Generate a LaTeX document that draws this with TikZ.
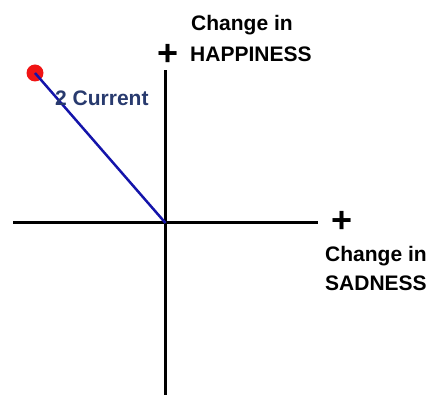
\documentclass[tikz,border=0pt]{standalone}
\usepackage{fontspec}
\setmainfont{Liberation Sans}
\definecolor{axisblue}{RGB}{20,20,170}
\definecolor{labelnavy}{RGB}{40,58,110}
\definecolor{dotred}{RGB}{240,20,20}
\begin{document}
\begin{tikzpicture}[x=1pt,y=-1pt,
  axis/.style={line width=3pt,black},
  lbl/.style={inner sep=0pt,anchor=base west,font=\fontsize{21}{24}\selectfont\bfseries},
  plussign/.style={inner sep=0pt,anchor=base,font=\fontsize{36}{40}\selectfont\bfseries},
  curline/.style={line width=2.5pt,axisblue}]
\useasboundingbox (0,0) rectangle (432,395);
\coordinate (O) at (165.5,223);
\coordinate (top) at (165.5,70);
\coordinate (bot) at (165.5,395);
\coordinate (left) at (13,223);
\coordinate (right) at (318,223);
\draw[axis] (bot) -- (top);
\draw[axis] (left) -- (right);
\node[circle,fill=dotred,inner sep=0pt,minimum size=17pt] (dot) at (35,73) {};
\draw[curline] (dot.center) -- (O);
\node[lbl,text=labelnavy] (cur) at (55,106) {2 Current};
\node[plussign] (plustop) at (168,65.5) {+};
\node[plussign] (plusright) at (342,233) {+};
\node[lbl] (h1) at (191,31) {Change in};
\node[lbl] (h2) at (190,62) {HAPPINESS};
\node[lbl] (s1) at (325,262) {Change in};
\node[lbl] (s2) at (325,291) {SADNESS};
\end{tikzpicture}
\end{document}
